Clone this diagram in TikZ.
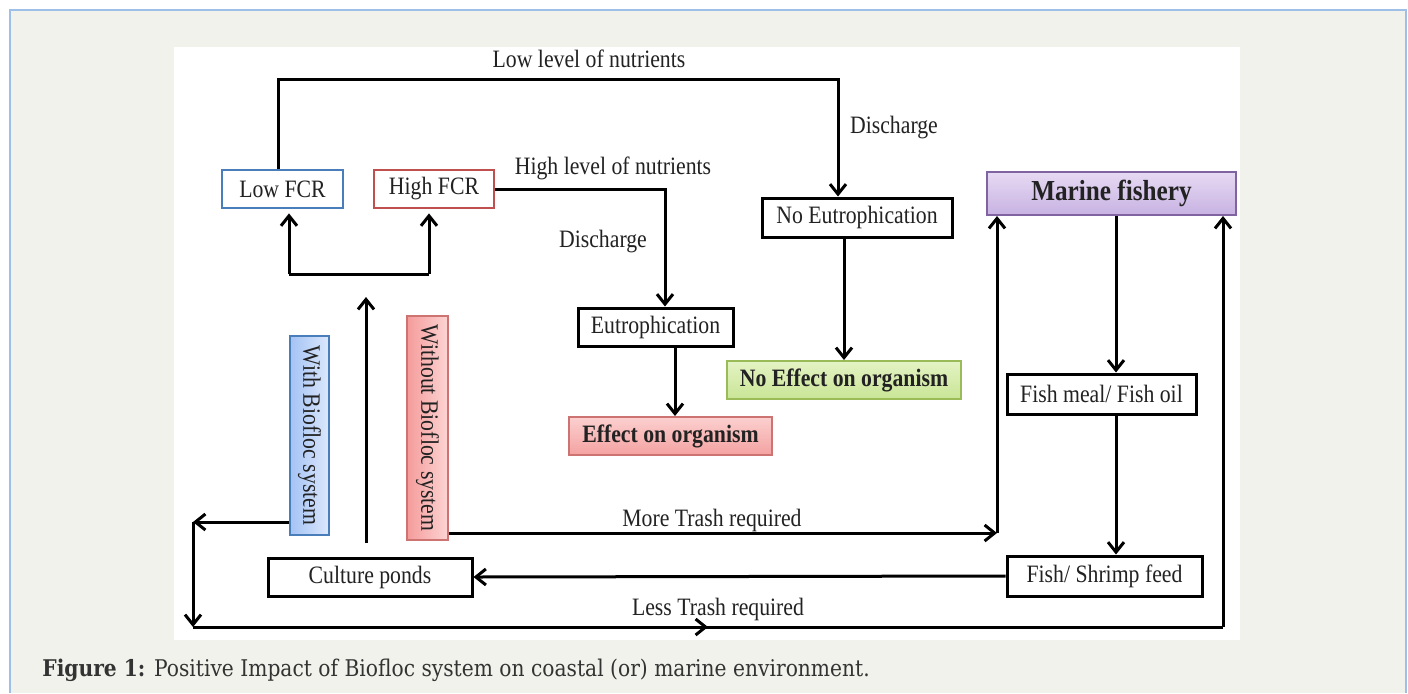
\documentclass[tikz,border=0pt]{standalone}
\usepackage{fontspec}
\setmainfont{Liberation Serif}[FakeStretch=0.87]
\newfontfamily\capfont{DejaVu Serif}[FakeStretch=0.88]
\usetikzlibrary{arrows.meta,decorations.markings}
\definecolor{bgc}{HTML}{F2F2EC}
\definecolor{framec}{HTML}{9DBFE8}
\definecolor{bluebd}{HTML}{4A7EBB}
\definecolor{redbd}{HTML}{C0504D}
\definecolor{greenbd}{HTML}{9BBB59}
\definecolor{purplebd}{HTML}{8064A2}
\definecolor{txt}{HTML}{222222}
\definecolor{blueA}{HTML}{A4C2F4}
\definecolor{blueB}{HTML}{DCE8FC}
\definecolor{redA}{HTML}{F49C9B}
\definecolor{redB}{HTML}{FCD4D3}
\definecolor{effA}{HTML}{FBD0CF}
\definecolor{effB}{HTML}{F3A2A1}
\definecolor{purA}{HTML}{E6DAF3}
\definecolor{purB}{HTML}{C8B2E2}
\definecolor{grnA}{HTML}{E4F3C4}
\definecolor{grnB}{HTML}{C9E596}
\begin{document}
\begin{tikzpicture}[x=0.5pt,y=-0.5pt,
  font=\fontsize{12.5pt}{14pt}\selectfont,
  box/.style={draw=black,line width=1.5pt,inner sep=0pt,text=txt},
  bbox/.style={box,draw=bluebd,line width=1.4pt},
  rbox/.style={box,draw=redbd,line width=1.4pt},
  boldtxt/.style={font=\fontsize{12.5pt}{14pt}\selectfont\bfseries},
  lab/.style={text=txt,inner sep=0pt},
  arr/.style={line width=1.5pt,-{Straight Barb[length=5pt,width=8pt,line width=1.5pt]}},
  ln/.style={line width=1.5pt},
  midarr/.style={line width=1.5pt,postaction={decorate},decoration={markings,mark=at position 0.5 with {\arrow{Straight Barb[length=5pt,width=8pt,line width=1.5pt]}}}}
]
\useasboundingbox (0,0) rectangle (1408,693);
\fill[white] (0,0) rectangle (1408,693);
\fill[bgc] (10,10) rectangle (1406,693);
\draw[framec,line width=1pt] (10,693) -- (10,10) -- (1406,10) -- (1406,693);
\fill[white] (174,47) rectangle (1240,640);

% boxes
\node[bbox,minimum width=60.5pt,minimum height=19pt] (lowfcr) at (282.5,189) {Low FCR};
\node[rbox,minimum width=60pt,minimum height=19pt] (highfcr) at (434,189) {High FCR};
\node[box,minimum width=95pt,minimum height=19.5pt] (noeu) at (857,217.5) {No Eutrophication};
\node[box,draw=purplebd,line width=1pt,minimum width=124.5pt,minimum height=21.5pt,top color=purA,bottom color=purB,font=\fontsize{14.5pt}{16pt}\selectfont\bfseries] (marine) at (1111.5,193.5) {Marine fishery};
\node[box,minimum width=77.5pt,minimum height=19pt] (eutro) at (655.5,327) {Eutrophication};
\node[box,draw=greenbd,line width=1pt,minimum width=117pt,minimum height=19pt,top color=grnA,bottom color=grnB,boldtxt] (noeffect) at (844,380) {No Effect on organism};
\node[box,draw=redbd!80,line width=1pt,minimum width=101.5pt,minimum height=19pt,top color=effA,bottom color=effB,boldtxt] (effect) at (670.5,436) {Effect on organism};
\node[box,minimum width=94.5pt,minimum height=20pt] (fishmeal) at (1101.5,394) {Fish meal/ Fish oil};
\node[box,minimum width=97.5pt,minimum height=20pt] (feed) at (1104.5,576) {Fish/ Shrimp feed};
\node[box,minimum width=102pt,minimum height=19pt] (culture) at (370,577) {Culture ponds};
\node[box,draw=bluebd,line width=1pt,minimum width=19.5pt,minimum height=99.5pt,left color=blueA,right color=blueB] (withbf) at (309.5,435.5) {\rotatebox{-90}{With Biofloc system}};
\node[box,draw=redbd!80,line width=1pt,minimum width=20.5pt,minimum height=112pt,left color=redA,right color=redB] (without) at (427.5,428) {\rotatebox{-90}{Without Biofloc system}};

% labels
\node[lab] (l1) at (589,59) {Low level of nutrients};
\node[lab] (l2) at (613,168) {High level of nutrients};
\node[lab] (l3) at (603,242) {Discharge};
\node[lab] (l4) at (894,128) {Discharge};
\node[lab] (l5) at (712,520) {More Trash required};
\node[lab] (l6) at (718,609) {Less Trash required};

% connectors
\coordinate (t1) at (838,79);
\draw[arr] ([xshift=-2.25pt]lowfcr.north) |- (t1) -- (t1 |- noeu.north);
\coordinate (t2) at (665,189);
\draw[arr] (highfcr.east) -- (t2) -- (t2 |- eutro.north);
\draw[arr] (noeffect.north |- noeu.south) -- (noeffect.north);
\coordinate (t3) at (675,0);
\draw[arr] (t3 |- eutro.south) -- (t3 |- effect.north);

\coordinate (bl) at (289,274);
\coordinate (br) at (429,274);
\draw[ln] (bl) -- (br);
\draw[arr,shorten >=2pt] (bl) -- (bl |- lowfcr.south);
\draw[arr,shorten >=2pt] (br) -- (br |- highfcr.south);

\coordinate (cpb) at (366,543);
\coordinate (cpt) at (366,297);
\draw[arr] (cpb) -- (cpt);

\coordinate (c1) at (193,522);
\coordinate (c2) at (193,627);
\coordinate (c3) at (1223,627);
\draw[arr] (withbf.west |- c1) -- (c1);
\draw[arr] (c1) -- (c2);
\draw[midarr] (c2) -- (c3);
\draw[arr] (c3) -- (c3 |- marine.south);

\coordinate (m1) at (997,533);
\draw[arr] (without.east |- m1) -- (m1);
\draw[arr] (m1) -- (m1 |- marine.south);

\coordinate (f1) at (1116,0);
\draw[arr] (f1 |- marine.south) -- (f1 |- fishmeal.north);
\draw[arr] (f1 |- fishmeal.south) -- (f1 |- feed.north);
\draw[arr] (feed.west) -- (culture.east);

% caption
\node[anchor=base west,inner sep=0pt,text=black!80,font=\capfont\fontsize{11.5pt}{13pt}\selectfont] (cap) at (42,676) {\textbf{Figure 1:} Positive Impact of Biofloc system on coastal (or) marine environment.};
\end{tikzpicture}
\end{document}
